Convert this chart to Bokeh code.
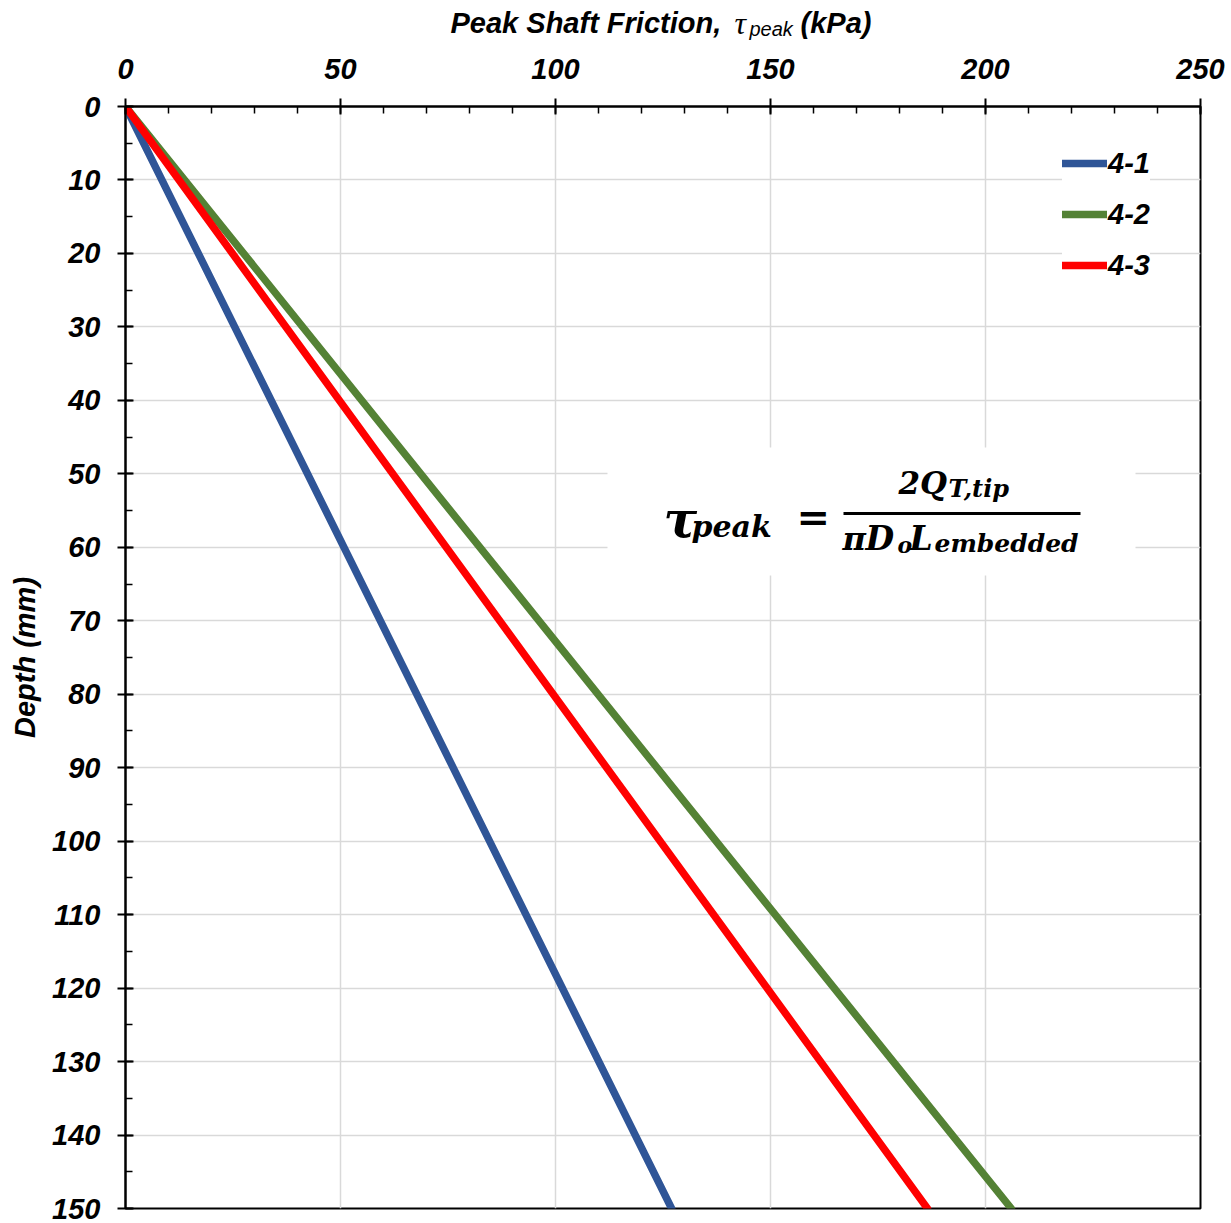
from bokeh.plotting import figure
from bokeh.layouts import column
from bokeh.models import (Range1d, Legend, LegendItem, Label, BoxAnnotation,
                          SingleIntervalTicker)
from bokeh.embed import file_html
from bokeh.resources import INLINE

# ---------------- data ----------------
depth_mm = [0, 150]
tau_4_1 = [0, 127.0]
tau_4_2 = [0, 206.0]
tau_4_3 = [0, 186.5]
series_names = ["4-1", "4-2", "4-3"]
series_colors = ["#2F5597", "#548235", "#FF0000"]

# ---------------- layout (page px) ----------------
TITLE_H = 50
FL, FT, FR, FB = 125, 106, 1200, 1208   # frame edges in page px
W = 1225


def fx(px):
    return (px - FL) / (FR - FL) * 250.0


def fy(py):
    return (py - FT) / (FB - FT) * 150.0


FONT = "Liberation Sans"
SERIF = "DejaVu Serif"

# ---------- title strip ----------
t = figure(width=W, height=TITLE_H, x_range=Range1d(0, 1), y_range=Range1d(0, 1),
           x_axis_type=None, y_axis_type=None, output_backend="svg",
           toolbar_location=None, min_border=0, min_border_left=0,
           min_border_right=0, min_border_top=0, min_border_bottom=0,
           outline_line_color=None, background_fill_color="white",
           border_fill_color="white")
t.xgrid.visible = False
t.ygrid.visible = False

T_DX, T_DY = 127, -11   # empirical offsets of the strip's frame


def tlab(text, X, Y, size, font, style):
    t.add_layout(Label(x=X - T_DX, y=TITLE_H - (Y + T_DY), x_units="screen", y_units="screen",
                       text=text, text_font=font, text_font_size=size,
                       text_font_style=style, text_baseline="alphabetic",
                       text_align="left", text_color="black"))


tlab("Peak Shaft Friction,", 452, 33, "29px", FONT, "bold italic")
tlab("τ", 736, 33, "32px", "Liberation Serif", "italic")
tlab("peak", 751, 39, "20px", FONT, "italic")
tlab("(kPa)", 802, 33, "29px", FONT, "bold italic")

# ---------- main chart ----------
p = figure(frame_width=FR - FL, frame_height=FB - FT,
           x_range=Range1d(0, 250), y_range=Range1d(150, 0),
           x_axis_location="above", y_axis_location="left",
           output_backend="svg", toolbar_location=None,
           min_border_left=FL, min_border_top=FT - TITLE_H,
           min_border_right=W - FR, min_border_bottom=15,
           background_fill_color="white", border_fill_color="white")

p.outline_line_color = "black"
p.outline_line_width = 2

for ax in (p.xaxis[0], p.yaxis[0]):
    ax.axis_line_color = "black"
    ax.axis_line_width = 2
    ax.major_tick_line_color = "black"
    ax.major_tick_line_width = 2
    ax.minor_tick_line_color = "black"
    ax.minor_tick_line_width = 1.5
    ax.major_tick_in = 8
    ax.major_tick_out = 8
    ax.minor_tick_in = 7
    ax.minor_tick_out = 0
    ax.major_label_text_font = FONT
    ax.major_label_text_font_style = "bold italic"
    ax.major_label_text_font_size = "29px"
    ax.major_label_text_color = "black"

p.xaxis[0].ticker = SingleIntervalTicker(interval=50, num_minor_ticks=5)
p.yaxis[0].ticker = SingleIntervalTicker(interval=10, num_minor_ticks=2)
p.xaxis[0].major_label_standoff = 20
p.yaxis[0].major_label_standoff = 17

p.yaxis[0].axis_label = "Depth (mm)"
p.yaxis[0].axis_label_text_font = FONT
p.yaxis[0].axis_label_text_font_style = "bold italic"
p.yaxis[0].axis_label_text_font_size = "29px"
p.yaxis[0].axis_label_text_color = "black"
p.yaxis[0].axis_label_standoff = 8

p.xgrid.grid_line_color = "#d9d9d9"
p.xgrid.grid_line_width = 1.5
p.ygrid.grid_line_color = "#d9d9d9"
p.ygrid.grid_line_width = 1.5

renderers = []
for vals, col in zip([tau_4_1, tau_4_2, tau_4_3], series_colors):
    r = p.line(vals, depth_mm, line_color=col, line_width=7.5, line_cap="round")
    renderers.append(r)

legend = Legend(items=[LegendItem(label=n, renderers=[r]) for n, r in zip(series_names, renderers)],
                location=(1062 - FL, FB - 285), glyph_width=45, glyph_height=40,
                spacing=11, padding=27, margin=0, label_standoff=1,
                label_text_font=FONT, label_text_font_style="bold italic",
                label_text_font_size="29px", label_text_color="black",
                border_line_color=None,
                background_fill_color="white", background_fill_alpha=1.0)
p.add_layout(legend)

# white box behind the equation
p.add_layout(BoxAnnotation(left=fx(607), right=fx(1135), top=fy(447), bottom=fy(575),
                           fill_color="white", fill_alpha=1.0, line_color=None))
# fraction bar
p.add_layout(BoxAnnotation(left=fx(843), right=fx(1080), top=fy(511.5), bottom=fy(514.5),
                           fill_color="black", fill_alpha=1.0, line_color=None))

E_DY = -10   # empirical baseline correction


def lab(text, X, Y, size, font, style):
    p.add_layout(Label(x=X - FL, y=FB - (Y + E_DY), x_units="screen", y_units="screen",
                       text=text, text_font=font, text_font_size=size,
                       text_font_style=style, text_baseline="alphabetic",
                       text_align="left", text_color="black"))


lab("τ", 663, 529, "50px", SERIF, "bold italic")
lab("peak", 691, 536, "30px", SERIF, "bold italic")
lab("=", 796, 526, "40px", SERIF, "bold")
lab("2Q", 898, 492, "31px", SERIF, "bold italic")
lab("T,tip", 948, 498, "24px", SERIF, "bold italic")
lab("π", 842, 548, "32px", SERIF, "bold italic")
lab("D", 865, 548, "33px", SERIF, "bold italic")
lab("o", 897, 554, "22px", SERIF, "bold italic")
lab("L", 909, 548, "33px", SERIF, "bold italic")
lab("embedded", 934, 553, "25px", SERIF, "bold italic")

layout = column(t, p, spacing=0)
open("out.html", "w").write(file_html(layout, INLINE))
